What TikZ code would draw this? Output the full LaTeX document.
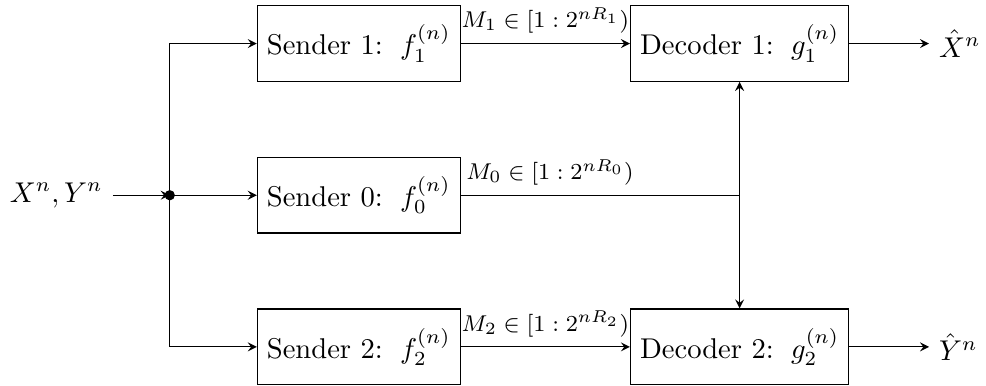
\documentclass[tikz,border=0pt]{standalone}
\usepackage{amsmath}
\usepackage{amssymb}
\usepackage{tikz}
\usetikzlibrary{arrows.meta, positioning}

\begin{document}
\begin{tikzpicture}[
			box/.style={draw, minimum height=0.93cm, align=center},
			arr/.style={-stealth},
			lbl/.style={font=\footnotesize, above},
			dot/.style={circle, fill, inner sep=0pt, minimum size=3.6pt},
			]
			\useasboundingbox (-4.41,-2.34) rectangle (7.71,2.40);
			% --- senders ---
			\node[box] (s0) at (0,0) {Sender 0:\hspace{6pt}$f_0^{(n)}$};
			\node[box, above=0.92cm of s0] (s1) {Sender 1:\hspace{6pt}$f_1^{(n)}$};
			\node[box, below=0.92cm of s0] (s2) {Sender 2:\hspace{6pt}$f_2^{(n)}$};

			% --- decoders ---
			\node[box, right=2.08cm of s1] (d1) {Decoder 1:\hspace{6pt}$g_1^{(n)}$};
			\node[box, right=2.08cm of s2] (d2) {Decoder 2:\hspace{6pt}$g_2^{(n)}$};

			% --- source and outputs ---
			\coordinate (j) at ([xshift=-1.07cm]s0.west);
			\node[left=0.70cm of j] (src) {$X^n, Y^n$};
			\node[right=0.98cm of d1] (xhat) {$\hat{X}^n$};
			\node[right=0.98cm of d2] (yhat) {$\hat{Y}^n$};
			\coordinate (m0) at (s0 -| d1);

			% ---- arrows ----
			\draw[arr] (src) -- (j);
			\draw[arr] (j) -- (s0);
			\draw[arr] (j) |- (s1);
			\draw[arr] (j) |- (s2);
			\node[dot] (split) at (j) {};
			\draw[arr] (s1) -- node[lbl] {$M_1\in[1:2^{nR_1})$} (d1);
			\draw[arr] (s2) -- node[lbl] {$M_2\in[1:2^{nR_2})$} (d2);
			\draw (s0) -- node[lbl, pos=0.32] {$M_0\in[1:2^{nR_0})$} (m0);
			\draw[arr] (m0) -- (d1);
			\draw[arr] (m0) -- (d2);
			\draw[arr] (d1) -- (xhat);
			\draw[arr] (d2) -- (yhat);
		\end{tikzpicture}
\end{document}
